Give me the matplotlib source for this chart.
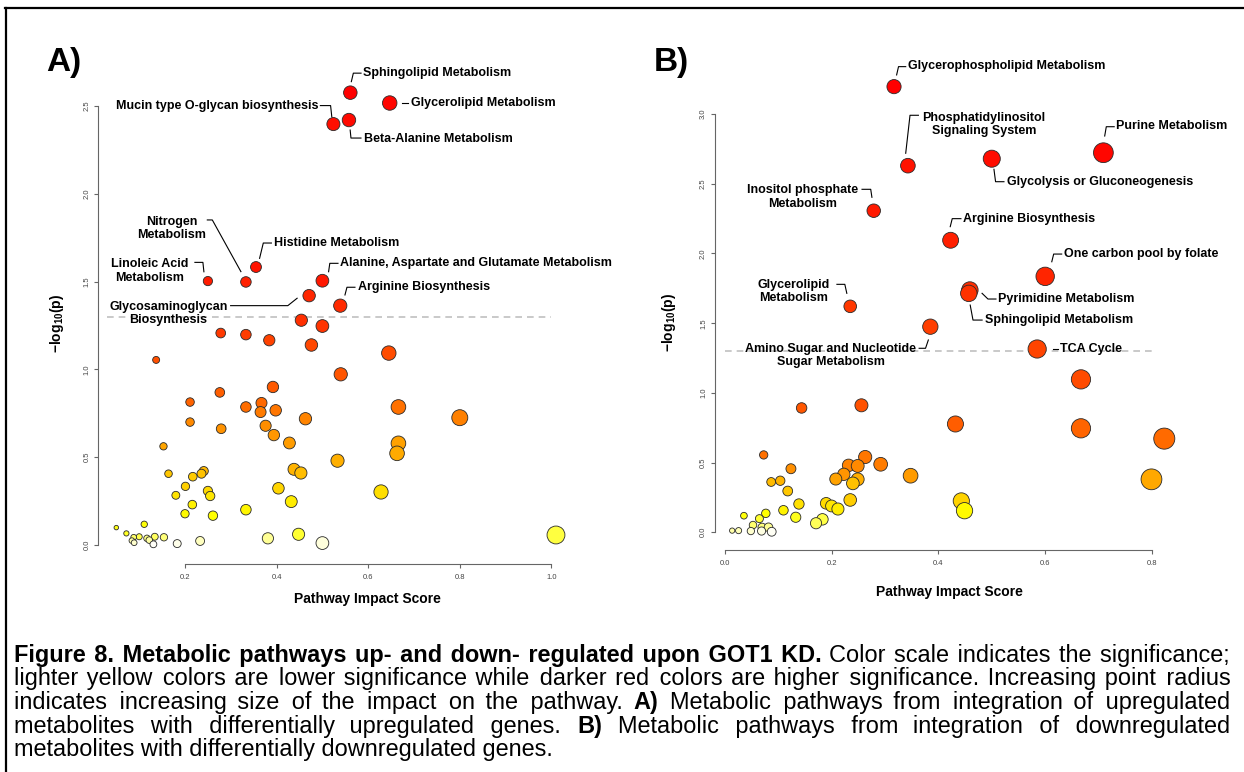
import colorsys
import numpy as np
import matplotlib
matplotlib.use("Agg")
import matplotlib.pyplot as plt
from matplotlib.transforms import IdentityTransform
from matplotlib.lines import Line2D

plt.rcParams['font.family'] = ['Liberation Sans', 'DejaVu Sans']
plt.rcParams['mathtext.fontset'] = 'custom'
plt.rcParams['mathtext.rm'] = 'Liberation Sans'
plt.rcParams['mathtext.bf'] = 'Liberation Sans:bold'

# ---------------- data : panel A (up-regulated) ----------------
A_LABELS = ["Sphingolipid Metabolism", "Glycerolipid Metabolism",
            "Mucin type O-glycan biosynthesis", "Beta-Alanine Metabolism",
            "Nitrogen\nMetabolism", "Histidine Metabolism",
            "Linoleic Acid\nMetabolism",
            "Alanine, Aspartate and Glutamate Metabolism",
            "Arginine Biosynthesis", "Glycosaminoglycan\nBiosynthesis"]
A_LAB_X = [0.561, 0.647, 0.524, 0.558, 0.333, 0.355, 0.250, 0.500, 0.539, 0.471]
A_LAB_Y = [2.576, 2.517, 2.397, 2.420, 1.498, 1.583, 1.503, 1.505, 1.363, 1.420]
A_X = [0.454, 0.500, 0.278, 0.333, 0.384, 0.476, 0.645, 0.137, 0.540, 0.392,
       0.276, 0.211, 0.367, 0.333, 0.666, 0.398, 0.365, 0.800, 0.463, 0.211,
       0.376, 0.279, 0.394, 0.428, 0.666, 0.153, 0.663, 0.533, 0.438, 0.241,
       0.453, 0.236, 0.164, 0.217, 0.201, 0.404, 0.250, 0.628, 0.255, 0.180,
       0.216, 0.432, 0.333, 0.200, 0.261, 0.050, 0.072, 0.111, 0.088, 0.100,
       0.084, 0.089, 0.117, 0.122, 0.134, 0.131, 0.154, 0.183, 0.233, 0.381,
       0.448, 0.500, 1.010]
A_Y = [1.280, 1.247, 1.207, 1.198, 1.166, 1.139, 1.093, 1.054, 0.972, 0.900,
       0.869, 0.814, 0.809, 0.786, 0.786, 0.767, 0.757, 0.725, 0.719, 0.700,
       0.679, 0.662, 0.626, 0.581, 0.579, 0.562, 0.522, 0.480, 0.431, 0.421,
       0.410, 0.406, 0.406, 0.389, 0.334, 0.323, 0.308, 0.302, 0.279, 0.283,
       0.230, 0.247, 0.201, 0.178, 0.167, 0.099, 0.066, 0.118, 0.044, 0.047,
       0.025, 0.013, 0.038, 0.028, 0.047, 0.004, 0.044, 0.008, 0.023, 0.038,
       0.061, 0.011, 0.057]
A_XTICKS = [0.2, 0.4, 0.6, 0.8, 1.0]
A_YTICKS = [0.0, 0.5, 1.0, 1.5, 2.0, 2.5]

# ---------------- data : panel B (down-regulated) ----------------
B_LABELS = ["Glycerophospholipid Metabolism", "Phosphatidylinositol\nSignaling System",
            "Glycolysis or Gluconeogenesis", "Purine Metabolism",
            "Inositol phosphate\nMetabolism", "Arginine Biosynthesis",
            "One carbon pool by folate", "Pyrimidine Metabolism",
            "Sphingolipid Metabolism", "Glycerolipid\nMetabolism",
            "Amino Sugar and Nucleotide\nSugar Metabolism", "TCA Cycle"]
B_LAB_X = [0.317, 0.343, 0.500, 0.709, 0.279, 0.423, 0.600, 0.459, 0.457, 0.235, 0.385, 0.585]
B_LAB_Y = [3.197, 2.630, 2.680, 2.723, 2.307, 2.095, 1.836, 1.738, 1.714, 1.621, 1.475, 1.315]
B_X = [0.667, 0.144, 0.256, 0.432, 0.667, 0.823, 0.799, 0.073, 0.124, 0.263,
       0.232, 0.249, 0.292, 0.348, 0.223, 0.208, 0.249, 0.240, 0.087, 0.104,
       0.118, 0.235, 0.443, 0.449, 0.139, 0.190, 0.200, 0.212, 0.110, 0.133,
       0.183, 0.171, 0.036, 0.065, 0.077, 0.053, 0.070, 0.082, 0.014, 0.026,
       0.049, 0.069, 0.088]
B_Y = [1.097, 0.892, 0.911, 0.777, 0.746, 0.672, 0.380, 0.555, 0.456, 0.540,
       0.480, 0.476, 0.488, 0.406, 0.416, 0.382, 0.380, 0.351, 0.361, 0.370,
       0.296, 0.232, 0.225, 0.155, 0.203, 0.208, 0.189, 0.167, 0.158, 0.108,
       0.093, 0.065, 0.119, 0.098, 0.136, 0.052, 0.036, 0.036, 0.012, 0.012,
       0.009, 0.009, 0.004]
B_XTICKS = [0.0, 0.2, 0.4, 0.6, 0.8]
B_YTICKS = [0.0, 0.5, 1.0, 1.5, 2.0, 2.5, 3.0]

P_THRESHOLD = 0.05

# ---------------- label layout (pixel offsets from point, y downward) ----------------
A_LAYOUT = [
    ((12.7, -20.0), 'left', [(1, -11), (3, -19.5), (10.7, -19.5)]),
    ((21.3, 0.0), 'left', [(12.3, 0), (18.3, 0)]),
    ((-14.4, -18.5), 'right', [(-13, -18.5), (-2.8, -18.5), (-1.6, -7.3)]),
    ((15.0, 18.5), 'left', [(1.2, 10), (2, 18), (12, 18)]),
    ((-74.0, -53.7), 'center', [(-38.6, -62), (-33.6, -62), (-5, -10.3)]),
    ((18.3, -24.3), 'left', [(3.6, -8.7), (7.3, -24), (15.4, -24)]),
    ((-58.4, -10.2), 'center', [(-13, -18.7), (-5, -18.7), (-4, -9.3)]),
    ((17.6, -17.4), 'left', [(6.2, -9), (7.4, -17.4), (15.6, -17.4)]),
    ((17.3, -18.7), 'left', [(4.7, -10.7), (6.7, -18.4), (14.7, -18.4)]),
    ((-140.6, 18.0), 'center', [(-78.5, 10), (-21.3, 10), (-12, 2.6)]),
]
B_LAYOUT = [
    ((14.1, -20.5), 'left', [(2.6, -11.7), (4.5, -20), (11.7, -20)]),
    ((75.8, -41.4), 'center', [(-2.2, -12.4), (2.1, -50.4), (10.5, -50.4)]),
    ((15.4, 23.5), 'left', [(2.2, 10.6), (3.8, 23), (12.2, 23)]),
    ((12.8, -26.3), 'left', [(1.3, -16.7), (2.9, -26), (10.8, -26)]),
    ((-71.3, -13.7), 'center', [(-11.7, -21.4), (-3, -21.4), (-1.8, -13.4)]),
    ((12.3, -21.6), 'left', [(-0.4, -13.6), (1.6, -21.6), (10.3, -21.6)]),
    ((19.3, -22.2), 'left', [(6.6, -14.6), (8.5, -22.3), (16.5, -22.3)]),
    ((28.1, 9.2), 'left', [(12.2, 3.3), (18.1, 9), (26.1, 9)]),
    ((16.1, 27.0), 'left', [(1.4, 11.7), (4.2, 26.7), (13.3, 26.7)]),
    ((-56.7, -14.6), 'center', [(-13.3, -22), (-5.4, -22), (-3.4, -13)]),
    ((-99.4, 28.5), 'center', [(-11.2, 21.6), (-4.8, 21.6), (-2, 13.3)]),
    ((23.3, 0.0), 'left', [(15.8, 0), (20.5, 0)]),
]

W, H, DPI = 1244, 772, 100
fig = plt.figure(figsize=(W / DPI, H / DPI), dpi=DPI)
fig.patch.set_facecolor('white')
ID = IdentityTransform()


def heat_colors(n):
    j = n // 4
    i = n - j
    cols = [colorsys.hsv_to_rgb(h, 1, 1) for h in np.linspace(0, 1 / 6, i)]
    if j > 0:
        cols += [colorsys.hsv_to_rgb(1 / 6, s, 1)
                 for s in np.linspace(1 - 1 / (2 * j), 1 / (2 * j), j)]
    return cols


def make_axes(xv, xp, yv, yp, yline_px, xline_px, xmax, ymax):
    sx = (xp[1] - xp[0]) / (xv[1] - xv[0])
    sy = (yp[0] - yp[1]) / (yv[1] - yv[0])
    x0 = xv[0] + (yline_px - xp[0]) / sx
    y0 = yv[0] - (xline_px - yp[0]) / sy
    left = yline_px
    right = xp[0] + (xmax - xv[0]) * sx
    bottom = xline_px
    top = yp[0] - (ymax - yv[0]) * sy
    ax = fig.add_axes([left / W, 1 - bottom / H, (right - left) / W, (bottom - top) / H])
    ax.set_xlim(x0, xmax)
    ax.set_ylim(y0, ymax)
    ax.patch.set_alpha(0)
    return ax


def style_axes(ax, xticks, yticks):
    for s in ['top', 'right']:
        ax.spines[s].set_visible(False)
    for s in ['left', 'bottom']:
        ax.spines[s].set_color('#666666')
        ax.spines[s].set_linewidth(0.8)
    ax.spines['bottom'].set_bounds(xticks[0], xticks[-1])
    ax.spines['left'].set_bounds(yticks[0], yticks[-1])
    ax.set_xticks(xticks)
    ax.set_yticks(yticks)
    ax.set_xticklabels([f"{v:.1f}" for v in xticks])
    ax.set_yticklabels([f"{v:.1f}" for v in yticks], rotation=90, va='center')
    ax.tick_params(length=3, width=0.8, color='#666666', labelsize=5.5,
                   labelcolor='#444444')
    ax.tick_params(axis='x', pad=4)
    ax.tick_params(axis='y', pad=2.5)


def draw_panel(ax, xs, ys, lab_x, lab_y, labels, layout, thr_x):
    x = np.array(list(lab_x) + list(xs))
    y = np.array(list(lab_y) + list(ys))
    order = np.argsort(-y, kind='stable')
    x, y = x[order], y[order]
    cols = heat_colors(len(y))
    sq = np.sqrt(x)
    mn, mx = sq.min(), sq.max()
    maxR = (mx - mn) / 40
    minR = (mx - mn) / 160
    radi = minR + (maxR - minR) * (sq - mn) / (mx - mn)
    px_per_x = ax.transData.transform((1, 0))[0] - ax.transData.transform((0, 0))[0]
    d_pt = 2 * radi * px_per_x * 72 / DPI
    ax.scatter(x, y, s=d_pt ** 2, c=cols, edgecolors='#2a2a2a', linewidths=0.6,
               clip_on=False, zorder=3)
    thr = -np.log10(P_THRESHOLD)
    ax.plot(thr_x, [thr, thr], color='#c0c0c0', lw=1.2, dashes=(4, 3), zorder=1,
            clip_on=False)
    for lx, ly, txt, (toff, ha, leader) in zip(lab_x, lab_y, labels, layout):
        P = ax.transData.transform((lx, ly))
        xs_l = [P[0] + dx for dx, dy in leader]
        ys_l = [P[1] - dy for dx, dy in leader]
        fig.add_artist(Line2D(xs_l, ys_l, transform=ID, color='black', lw=0.8))
        fig.text(P[0] + toff[0], P[1] - toff[1], txt, transform=ID, ha=ha,
                 va='center', multialignment='center', fontsize=9,
                 fontweight='bold', linespacing=1.15)


# ---------------- Panel A ----------------
axA = make_axes((0.2, 1.0), (185.0, 551.4), (0.0, 2.5), (545.0, 106.0),
                yline_px=98.0, xline_px=564.0, xmax=1.05, ymax=2.7)
style_axes(axA, A_XTICKS, A_YTICKS)
draw_panel(axA, A_X, A_Y, A_LAB_X, A_LAB_Y, A_LABELS, A_LAYOUT, [0.03, 1.0])

# ---------------- Panel B ----------------
axB = make_axes((0.0, 0.8), (724.7, 1152.0), (0.0, 3.0), (532.3, 114.1),
                yline_px=714.7, xline_px=550.0, xmax=0.86, ymax=3.3)
style_axes(axB, B_XTICKS, B_YTICKS)
draw_panel(axB, B_X, B_Y, B_LAB_X, B_LAB_Y, B_LABELS, B_LAYOUT, [0.0, 0.8])

# axis titles
for cx, cy in [(367.5, 599.0), (949.0, 592.0)]:
    fig.text(cx, H - cy, "Pathway Impact Score", transform=ID, ha='center',
             va='center', fontsize=10, fontweight='bold')
for cx, cy in [(57.0, 323.0), (669.5, 322.0)]:
    fig.text(cx, H - cy, r"$\mathbf{-log}_{\mathbf{10}}\mathbf{(p)}$", transform=ID,
             ha='center', va='center', fontsize=10, rotation=90)

# panel letters
fig.text(46, H - 62, "A)", transform=ID, ha='left', va='center', fontsize=24,
         fontweight='bold')
fig.text(654, H - 62, "B)", transform=ID, ha='left', va='center', fontsize=24,
         fontweight='bold')

# frame lines (top and left)
fig.add_artist(Line2D([5, W], [H - 8, H - 8], transform=ID, color='black', lw=1.6))
fig.add_artist(Line2D([6, 6], [H - 8, 0], transform=ID, color='black', lw=1.6))

# ---------------- caption (justified with padded spaces) ----------------
CAPTION = [
    ([("Figure 8. Metabolic pathways up- and down- regulated upon GOT1 KD.", True),
      ("Color scale indicates the significance;", False)], True),
    ([("lighter yellow colors are lower significance while darker red colors are "
       "higher significance. Increasing point radius", False)], True),
    ([("indicates increasing size of the impact on the pathway.", False), ("A)", True),
      ("Metabolic pathways from integration of upregulated", False)], True),
    ([("metabolites with differentially upregulated genes.", False), ("B)", True),
      ("Metabolic pathways from integration of downregulated", False)], True),
    ([("metabolites with differentially downregulated genes.", False)], False),
]
CAP_SIZE = 16.9
renderer = fig.canvas.get_renderer()
HAIR = "\u200a"
_cache = {}


def text_width(s, bold):
    key = (s, bold)
    if key not in _cache:
        t = fig.text(0, 0, s, transform=ID, fontsize=CAP_SIZE,
                     fontweight='bold' if bold else 'normal')
        _cache[key] = t.get_window_extent(renderer).width
        t.remove()
    return _cache[key]


hair_w = {b: max((text_width("a" + HAIR * 20 + "a", b) - text_width("aa", b)) / 20, 0.2)
          for b in (False, True)}

x_left, x_right = 13.5, 1230.0
y_first, dy_line = 662.0, 23.5
for li, (segments, justify) in enumerate(CAPTION):
    yb = H - (y_first + li * dy_line)
    if not justify:
        fig.text(x_left, yb, " ".join(s for s, _ in segments), transform=ID,
                 fontsize=CAP_SIZE, ha='left', va='baseline')
        continue
    seg_words = [(seg.split(" "), bold) for seg, bold in segments]
    n_words = sum(len(w) for w, _ in seg_words)
    total = sum(text_width(w, b) for ws, b in seg_words for w in ws)
    gap = (x_right - x_left - total) / (n_words - 1)
    ideal = x_left
    for ws, bold in seg_words:
        seg_start = ideal
        s = ws[0]
        ideal += text_width(ws[0], bold)
        for w in ws[1:]:
            ideal += gap
            target_end = ideal + text_width(w, bold) - seg_start
            base = s + " "
            k0 = max(int(round((target_end - text_width(base + w, bold)) / hair_w[bold])), 0)
            best, best_err = None, None
            for k in (k0 - 1, k0, k0 + 1):
                if k < 0:
                    continue
                cand = base + HAIR * k + w
                err = abs(text_width(cand, bold) - target_end)
                if best_err is None or err < best_err:
                    best, best_err = cand, err
            s = best
            ideal += text_width(w, bold)
        fig.text(seg_start, yb, s, transform=ID, fontsize=CAP_SIZE,
                 fontweight='bold' if bold else 'normal', ha='left', va='baseline')
        ideal += gap

fig.savefig("out.png", dpi=DPI)
